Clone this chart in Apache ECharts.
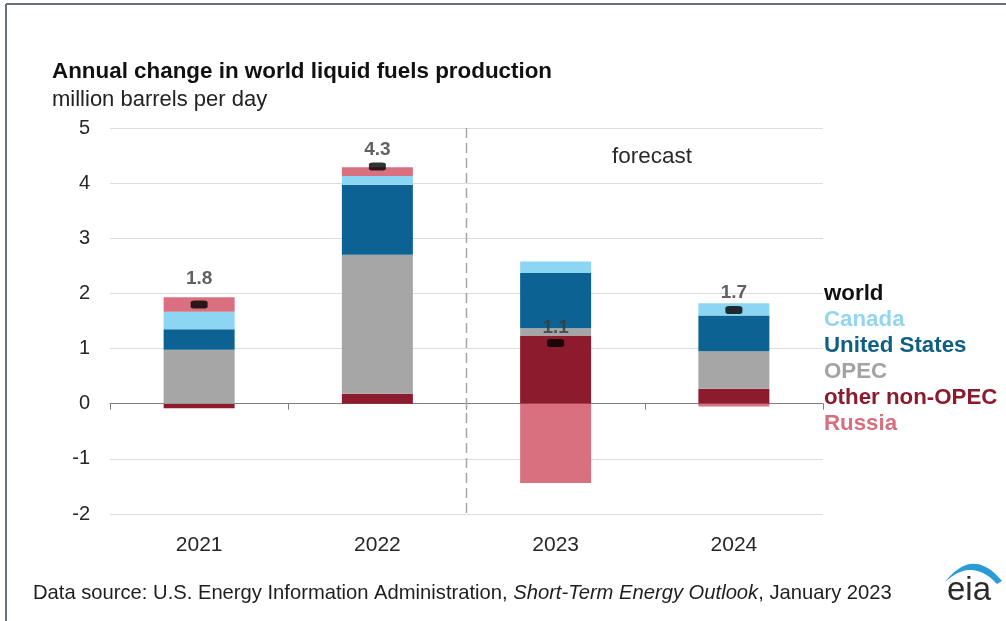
<!DOCTYPE html>
<html>
<head>
<meta charset="utf-8">
<title>Annual change in world liquid fuels production</title>
<script src="https://cdn.jsdelivr.net/npm/echarts@6/dist/echarts.min.js"></script>
<style>
  html, body { margin: 0; padding: 0; background: #ffffff; }
  #chart { width: 1006px; height: 621px; }
</style>
</head>
<body>
<div id="chart"></div>
<script>
// Annual change in world liquid fuels production, million barrels per day
const years = ['2021', '2022', '2023', '2024'];
const otherNonOpec = [-0.08, 0.18, 1.23, 0.27];
const opec = [0.98, 2.52, 0.14, 0.68];
const unitedStates = [0.37, 1.27, 1.00, 0.65];
const canada = [0.32, 0.16, 0.21, 0.22];
const russia = [0.26, 0.16, -1.44, -0.05];
const world = [1.8, 4.3, 1.1, 1.7];
const yTicks = { min: -2, max: 5, step: 1 };
// boundary between history and forecast (category-position units)
const forecastStart = 2;
// gap (px) between each world marker and its value label
const worldLabelGap = [12, 3, 2, 4];

const FONT = '"Liberation Sans", Arial, Helvetica, sans-serif';
const colors = {
  world: '#000000',
  canada: '#8dd6f3',
  us: '#0c6292',
  opec: '#a6a6a6',
  other: '#8c1b2d',
  russia: '#d9707f'
};
const legendText = {
  world: '#111111',
  canada: '#93d4ee',
  us: '#0f5f82',
  opec: '#a3a3a3',
  other: '#8b1a2c',
  russia: '#d4707f'
};

// swoosh of the eia mark as a closed crescent
function quad(p0, p1, p2, n) {
  const pts = [];
  for (let i = 0; i <= n; i++) {
    const t = i / n, u = 1 - t;
    pts.push([u * u * p0[0] + 2 * u * t * p1[0] + t * t * p2[0],
              u * u * p0[1] + 2 * u * t * p1[1] + t * t * p2[1]]);
  }
  return pts;
}
const swoosh = quad([945, 582], [973, 546], [1002, 581], 20)
  .concat(quad([997, 584], [972, 557], [945, 582], 20));

const chart = echarts.init(document.getElementById('chart'), null, { renderer: 'canvas' });

function barSeries(name, data, color) {
  return {
    name: name,
    type: 'bar',
    stack: 'total',
    xAxisIndex: 0,
    yAxisIndex: 0,
    barWidth: 71,
    data: data,
    itemStyle: { color: color },
    emphasis: { disabled: true },
    z: 2
  };
}

const option = {
  animation: false,
  backgroundColor: '#ffffff',
  textStyle: { fontFamily: FONT },
  title: [
    {
      text: 'Annual change in world liquid fuels production',
      left: 52, top: 61, padding: 0,
      textStyle: { fontFamily: FONT, fontSize: 22.4, fontWeight: 'bold', color: '#111111' }
    },
    {
      text: 'million barrels per day',
      left: 52, top: 89, padding: 0,
      textStyle: { fontFamily: FONT, fontSize: 22, fontWeight: 'normal', color: '#222222' }
    }
  ],
  legend: {
    orient: 'vertical',
    left: 819,
    top: 281,
    padding: 0,
    itemWidth: 0,
    itemHeight: 26,
    itemGap: 0,
    selectedMode: false,
    textStyle: { fontFamily: FONT, fontSize: 22.3, fontWeight: 'bold', lineHeight: 26 },
    data: [
      { name: 'world', textStyle: { color: legendText.world } },
      { name: 'Canada', textStyle: { color: legendText.canada } },
      { name: 'United States', textStyle: { color: legendText.us } },
      { name: 'OPEC', textStyle: { color: legendText.opec } },
      { name: 'other non-OPEC', textStyle: { color: legendText.other } },
      { name: 'Russia', textStyle: { color: legendText.russia } }
    ]
  },
  grid: { left: 110, right: 183, top: 128, bottom: 107, containLabel: false },
  xAxis: [
    {
      type: 'category',
      data: years,
      position: 'bottom',
      axisLine: { show: true, onZero: true, lineStyle: { color: '#7f7f7f', width: 1 } },
      axisTick: { show: true, length: 6, lineStyle: { color: '#7f7f7f' } },
      axisLabel: { show: false },
      splitLine: { show: false }
    },
    {
      type: 'category',
      data: years,
      position: 'bottom',
      axisLine: { show: false, onZero: false },
      axisTick: { show: false },
      axisLabel: { show: true, margin: 21, fontFamily: FONT, fontSize: 21, color: '#262626' },
      splitLine: { show: false }
    },
    {
      type: 'value',
      min: 0,
      max: years.length,
      show: false
    }
  ],
  yAxis: {
    type: 'value',
    min: yTicks.min,
    max: yTicks.max,
    interval: yTicks.step,
    axisLine: { show: false },
    axisTick: { show: false },
    axisLabel: { margin: 20, fontFamily: FONT, fontSize: 20, color: '#262626' },
    splitLine: { show: true, lineStyle: { color: '#dcdcdc', width: 1 } }
  },
  series: [
    barSeries('other non-OPEC', otherNonOpec, colors.other),
    barSeries('OPEC', opec, colors.opec),
    barSeries('United States', unitedStates, colors.us),
    barSeries('Canada', canada, colors.canada),
    barSeries('Russia', russia, colors.russia),
    {
      name: 'world',
      type: 'scatter',
      xAxisIndex: 0,
      yAxisIndex: 0,
      data: world.map(function (v, i) {
        return { value: v, label: { distance: worldLabelGap[i] } };
      }),
      symbol: 'roundRect',
      symbolSize: [17, 8],
      itemStyle: { color: colors.world },
      emphasis: { disabled: true },
      label: {
        show: true,
        position: 'top',
        formatter: function (p) { return p.value.toFixed(1); },
        fontFamily: FONT,
        fontSize: 19,
        fontWeight: 'bold',
        color: '#3a3a3a'
      },
      z: 5
    },
    {
      // dashed divider between history and forecast years
      name: 'divider',
      type: 'line',
      xAxisIndex: 2,
      yAxisIndex: 0,
      data: [[forecastStart, yTicks.max], [forecastStart, yTicks.min]],
      symbol: 'none',
      lineStyle: { color: '#a6a6a6', width: 1.5, type: [10, 5] },
      emphasis: { disabled: true },
      silent: true,
      z: 1
    }
  ],
  graphic: [
    // frame
    { type: 'line', shape: { x1: 6, y1: 4, x2: 1006, y2: 4 }, style: { stroke: '#66717c', lineWidth: 2 } },
    { type: 'line', shape: { x1: 6, y1: 4, x2: 6, y2: 621 }, style: { stroke: '#66717c', lineWidth: 2 } },
    {
      type: 'text', x: 612, y: 145,
      style: { text: 'forecast', fontFamily: FONT, fontSize: 22.5, fill: '#2a2a2a' }
    },
    {
      type: 'text', x: 33, y: 583,
      style: {
        text: '{n|Data source: U.S. Energy Information Administration, }{i|Short-Term Energy Outlook}{n|, January 2023}',
        rich: {
          n: { fontFamily: FONT, fontSize: 20.2, fill: '#1e1e1e' },
          i: { fontFamily: FONT, fontSize: 20.2, fontStyle: 'italic', fill: '#1e1e1e' }
        }
      }
    },
    // eia mark
    {
      type: 'polygon',
      shape: { points: swoosh },
      style: { fill: '#2a9bd4' }
    },
    {
      type: 'text', x: 947, y: 574,
      style: { text: 'eia', fontFamily: FONT, fontSize: 33, fill: '#2b2b2b' }
    }
  ]
};

chart.setOption(option);
</script>
</body>
</html>
